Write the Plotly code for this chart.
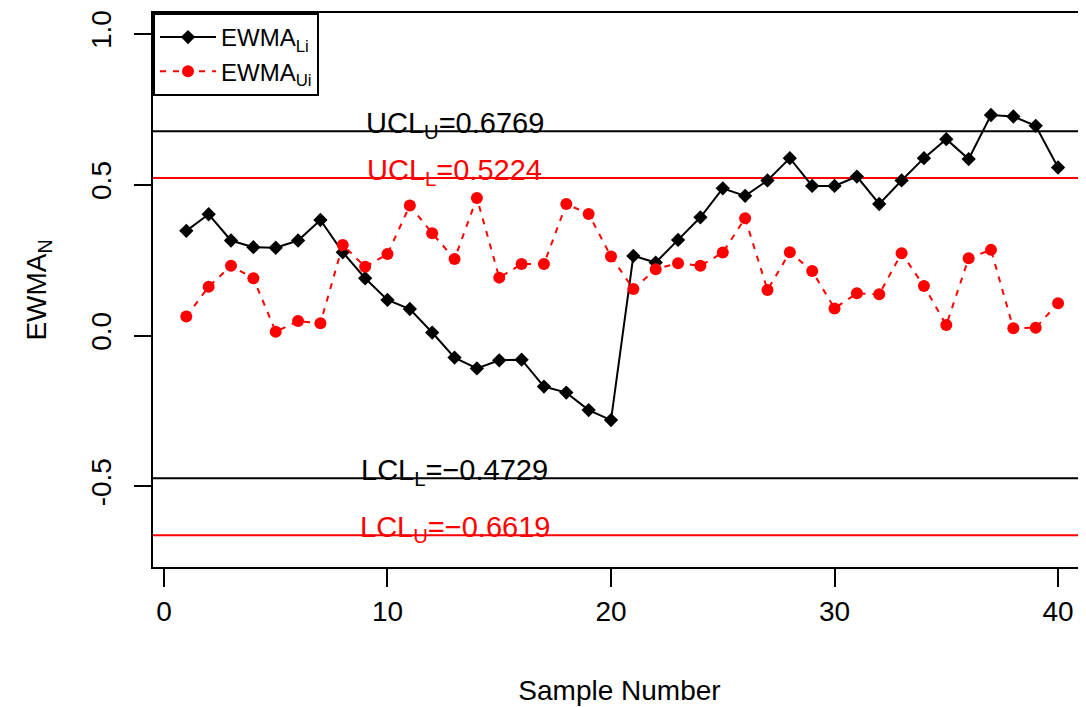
import plotly.graph_objects as go

sample = list(range(1, 41))
ewma_li = [0.347, 0.402, 0.315, 0.293, 0.291, 0.315, 0.383, 0.276, 0.190, 0.118,
           0.088, 0.010, -0.073, -0.109, -0.082, -0.080, -0.169, -0.189, -0.247, -0.280,
           0.264, 0.242, 0.317, 0.392, 0.488, 0.463, 0.514, 0.588, 0.496, 0.496,
           0.527, 0.436, 0.514, 0.588, 0.651, 0.585, 0.731, 0.726, 0.695, 0.557]
ewma_ui = [0.063, 0.162, 0.231, 0.190, 0.013, 0.048, 0.041, 0.300, 0.228, 0.270,
           0.431, 0.339, 0.254, 0.456, 0.192, 0.237, 0.237, 0.436, 0.403, 0.262,
           0.154, 0.220, 0.240, 0.231, 0.275, 0.389, 0.151, 0.276, 0.214, 0.090,
           0.140, 0.137, 0.273, 0.164, 0.035, 0.256, 0.284, 0.024, 0.026, 0.107]

limit_values = [0.6769, 0.5224, -0.4729, -0.6619]
limit_labels = ["UCL<sub>U</sub>=0.6769", "UCL<sub>L</sub>=0.5224",
                "LCL<sub>L</sub>=\u22120.4729", "LCL<sub>U</sub>=\u22120.6619"]
limit_colors = ["black", "#FF0000", "black", "#FF0000"]
label_x = 13

x_ticks = [0, 10, 20, 30, 40]
y_ticks = [-0.5, 0.0, 0.5, 1.0]
y_ticktext = ["-0.5", "0.0", "0.5", "1.0"]

FONT = "Liberation Sans, Arial, sans-serif"

fig = go.Figure()
fig.add_trace(go.Scatter(
    x=sample, y=ewma_li, mode="lines+markers", name="EWMA<sub>Li</sub>",
    line=dict(color="black", width=2),
    marker=dict(symbol="diamond", size=11, color="black")))
fig.add_trace(go.Scatter(
    x=sample, y=ewma_ui, mode="lines+markers", name="EWMA<sub>Ui</sub>",
    line=dict(color="#FF0000", width=2, dash="6px,7px"),
    marker=dict(symbol="circle", size=12, color="#FF0000")))

for v, lab, c in zip(limit_values, limit_labels, limit_colors):
    fig.add_shape(type="line", xref="paper", x0=0, x1=1, yref="y", y0=v, y1=v,
                  line=dict(color=c, width=2), layer="below")
    fig.add_annotation(x=label_x, y=v, text=lab, showarrow=False,
                       xanchor="center", yanchor="middle", yshift=6,
                       font=dict(family=FONT, size=29, color=c))

fig.update_layout(
    width=1078, height=699,
    margin=dict(l=145, r=0, t=5, b=140),
    paper_bgcolor="white", plot_bgcolor="white",
    font=dict(family=FONT, size=28, color="black"),
    showlegend=True,
    legend=dict(x=0, y=1, xanchor="left", yanchor="top",
                bordercolor="black", borderwidth=2, bgcolor="white",
                font=dict(family=FONT, size=24, color="black"),
                itemwidth=56, tracegroupgap=0),
    xaxis=dict(range=[-0.49, 41.25], tickvals=x_ticks, ticks="outside",
               ticklen=18, tickwidth=2, tickcolor="black",
               showline=True, linecolor="black", linewidth=2, mirror=True,
               showgrid=False, zeroline=False,
               tickfont=dict(family=FONT, size=28),
               title=dict(text="Sample Number", standoff=55,
                          font=dict(family=FONT, size=28))),
    yaxis=dict(range=[-0.767, 1.069], tickvals=y_ticks, ticktext=y_ticktext,
               tickangle=-90, ticks="outside", ticklen=17, tickwidth=2,
               tickcolor="black", showline=True, linecolor="black", linewidth=2,
               mirror=False, showgrid=False, zeroline=False,
               ticklabelstandoff=12,
               tickfont=dict(family=FONT, size=28),
               title=dict(text="EWMA<sub>N</sub>", standoff=31,
                          font=dict(family=FONT, size=28))),
)

fig.write_html("out.html")
